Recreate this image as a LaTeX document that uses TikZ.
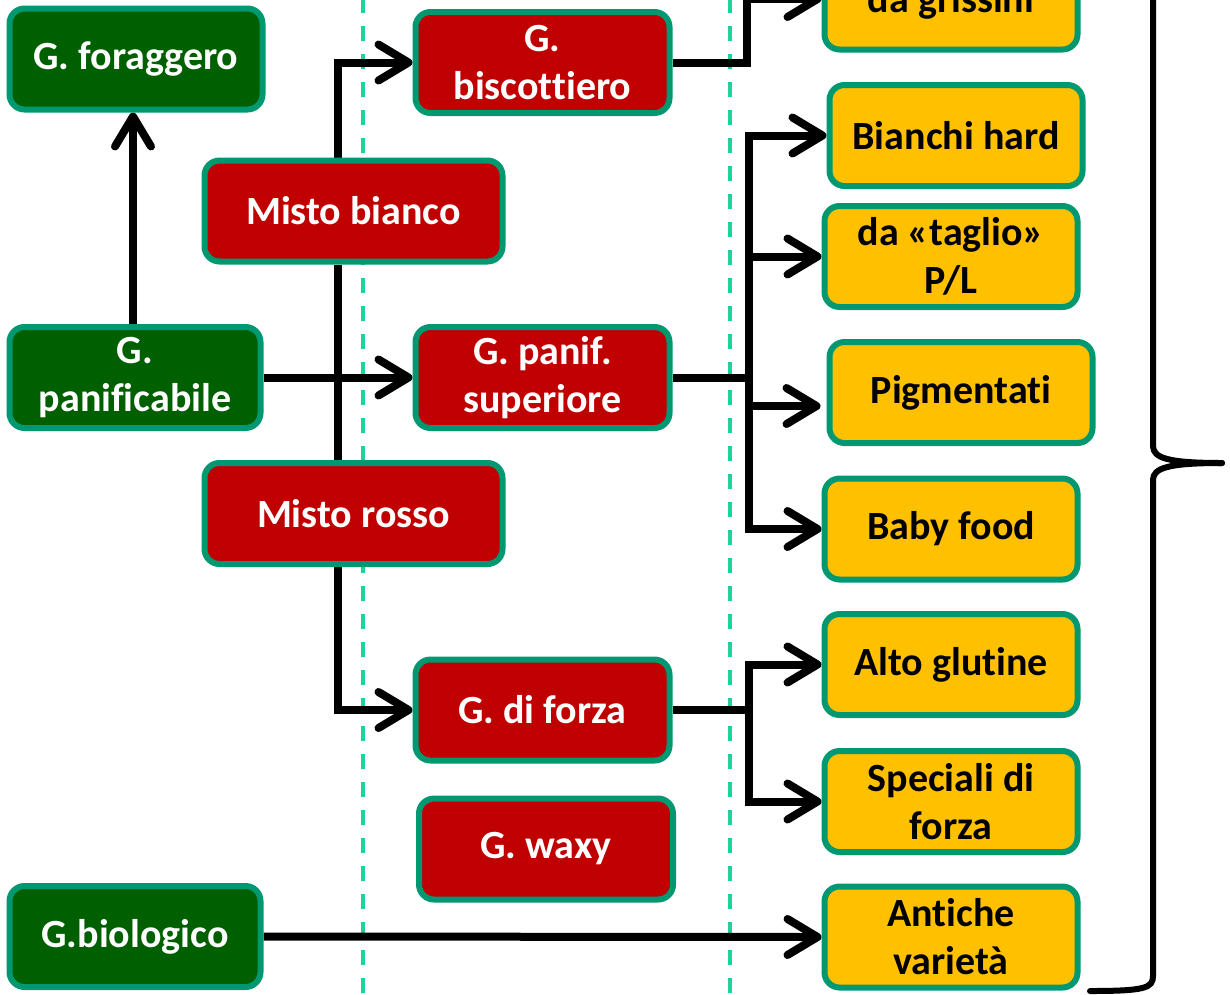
\documentclass[tikz,border=0pt]{standalone}
\usepackage{fontspec}
\setmainfont{Carlito}[Ligatures=NoCommon]
\usetikzlibrary{arrows.meta}
\definecolor{bord}{RGB}{0,152,112}
\definecolor{gfill}{RGB}{0,96,0}
\definecolor{rfill}{RGB}{192,0,0}
\definecolor{yfill}{RGB}{255,192,0}
\definecolor{dashc}{RGB}{30,210,155}
\pgfdeclarelayer{dashes}
\pgfdeclarelayer{lines}
\pgfsetlayers{dashes,lines,main}
\tikzset{
  txt/.style={font=\fontsize{40}{48}\selectfont\bfseries},
  box/.style={draw=bord, line width=6pt, rounded corners=15pt, inner sep=0pt,
    minimum width=253pt, minimum height=101pt, align=center, txt},
  gbox/.style={box, fill=gfill, text=white},
  rbox/.style={box, fill=rfill, text=white},
  ybox/.style={box, fill=yfill, text=black},
  conn/.style={line width=8pt, black},
  arr/.style={conn, -{Straight Barb[length=30pt, width=36pt, line width=8pt, round]}},
  sep/.style={dashc, line width=4.5pt, dash pattern=on 15pt off 13pt},
  bracel/.style={line width=6pt, black, line cap=round}
}
\begin{document}
\begin{tikzpicture}[x=1pt, y=-1pt]
\useasboundingbox (0,0) rectangle (1230,994);
% nodes
\node[gbox] (forag) at (136,59) {G. foraggero};
\node[gbox, minimum width=251pt] (panif) at (135,377.5) {G.\\panificabile};
\node[gbox, minimum width=251pt] (biolog) at (135,936.5) {G.biologico};
\node[rbox, minimum width=298pt] (mb) at (353.5,211) {Misto bianco};
\node[rbox, minimum width=298pt] (mr) at (353.5,513.5) {Misto rosso};
\node[rbox, minimum width=254pt] (bisc) at (542.5,62.5) {G.\\biscottiero};
\node[rbox, minimum width=254pt] (sup) at (542.5,377.5) {G. panif.\\superiore};
\node[rbox, minimum width=254pt] (forza) at (542.5,710) {G. di forza};
\node[rbox, minimum width=254pt] (waxy) at (546,849) {G. waxy};
\node[ybox] (griss) at (951,-1) {};
\node[txt, anchor=base] (grisst) at (951,12) {da grissini};
\node[ybox] (bianchi) at (956,135.5) {Bianchi hard};
\node[ybox] (taglio) at (951,256.5) {da «taglio»\\P/L};
\node[ybox, minimum width=263pt] (pigm) at (961,392.5) {Pigmentati};
\node[ybox] (baby) at (951,529) {Baby food};
\node[ybox] (alto) at (951,664.5) {Alto glutine};
\node[ybox] (spec) at (951,801.5) {Speciali di\\forza};
\node[ybox] (antic) at (951,937) {Antiche\\varietà};
% dashed separators
\begin{pgfonlayer}{dashes}
\draw[sep] (363,-2) -- (363,1000);
\draw[sep] (730,-2) -- (730,1000);
\end{pgfonlayer}
% connectors
\begin{pgfonlayer}{lines}
\draw[arr] ([xshift=-2pt]panif.north) -- ([xshift=-3pt]forag.south);
\draw[arr] (panif.east) -- (sup.west);
\draw[arr] ([xshift=-15.5pt]mb.north) |- (bisc.west);
\draw[conn] ([xshift=-15.5pt]mb.south) -- ([xshift=-15.5pt]mr.north);
\draw[arr] ([xshift=-15.5pt]mr.south) |- (forza.west);
\draw[arr] (bisc.east) -- ++(74,0) |- (griss.west);
\draw[conn] (sup.east) -- ++(80,0);
\draw[arr] (sup.east) ++(76,0) |- (bianchi.west);
\draw[arr] (sup.east) ++(76,0) |- (taglio.west);
\draw[arr] (sup.east) ++(76,0) |- ([xshift=-6pt,yshift=-13.5pt]pigm.west);
\draw[arr] (sup.east) ++(76,0) |- (baby.west);
\draw[conn] (forza.east) -- ++(80,0);
\draw[arr] (forza.east) ++(76,0) |- (alto.west);
\draw[arr] (forza.east) ++(76,0) |- (spec.west);
\draw[arr] (biolog.east) -- (antic.west);
\end{pgfonlayer}
% brace
\draw[bracel] (1153,-60) -- (1153,446) .. controls (1153,458) and (1168,463) .. (1222,463);
\draw[bracel] (1222,463) .. controls (1168,463) and (1153,468) .. (1153,480) -- (1153,976) .. controls (1153,988) and (1145,991) .. (1090,991);
\end{tikzpicture}
\end{document}
